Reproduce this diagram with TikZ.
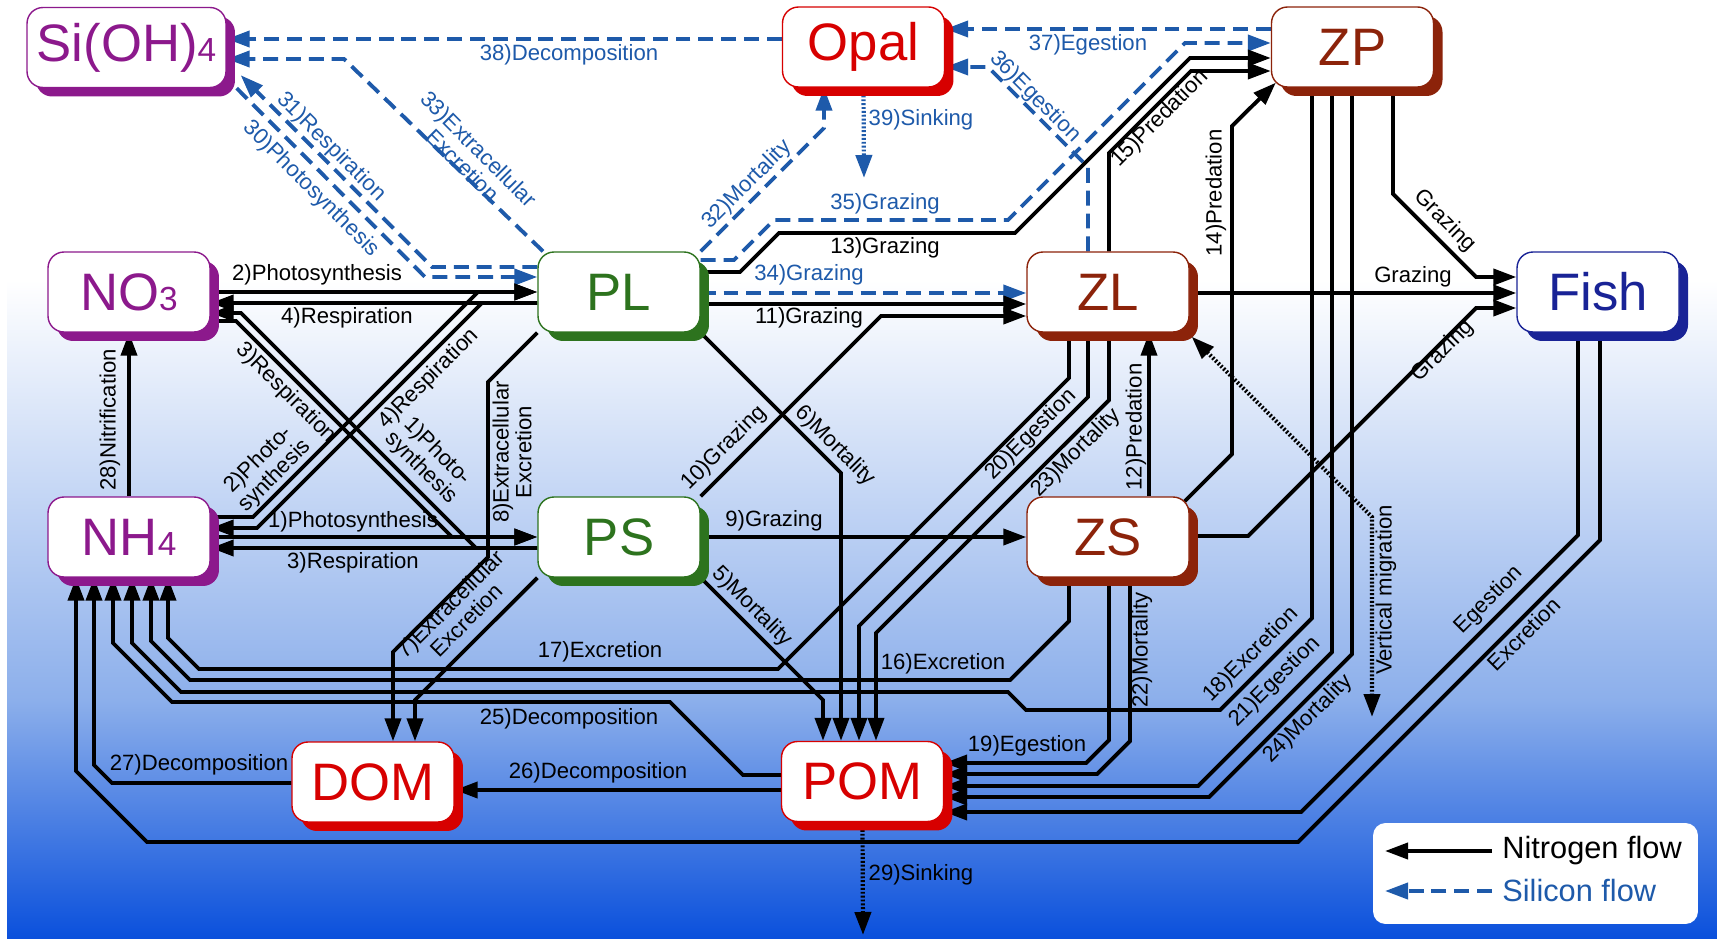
\documentclass[tikz,border=0pt]{standalone}
\usepackage{fontspec}
\setmainfont{Liberation Sans}
\usetikzlibrary{arrows.meta,shadows}

\pgfdeclarelayer{back}
\pgfdeclarelayer{flows}
\pgfsetlayers{back,flows,main}

\definecolor{purp}{RGB}{140,25,140}
\definecolor{leaf}{RGB}{45,115,30}
\definecolor{rust}{RGB}{140,35,10}
\definecolor{crim}{RGB}{215,0,0}
\definecolor{fishblue}{RGB}{25,35,150}
\definecolor{siblue}{RGB}{30,90,170}
\definecolor{seatop}{RGB}{140,175,235}
\definecolor{seadeep}{RGB}{10,80,220}

\newcommand{\lowidx}[1]{{\fontsize{19}{19}\selectfont #1}}

\tikzset{
  pool/.style={draw=#1, text=#1, fill=white, line width=0.8pt,
    rounded corners=0.32cm, minimum width=3.24cm, minimum height=1.6cm,
    inner sep=0pt, font=\fontsize{30}{30}\selectfont,
    drop shadow={shadow xshift=0.18cm, shadow yshift=-0.18cm, fill=#1, opacity=1}},
  nflow/.style={line width=2.2pt, ->},
  sflow/.style={siblue, line width=2.2pt, dash pattern=on 8.5pt off 4.5pt, ->},
  dflow/.style={line width=2.4pt, dash pattern=on 1.1pt off 1.1pt},
  lbl/.style={font=\fontsize{12.6}{13}\selectfont, inner sep=0pt, align=center},
  slbl/.style={lbl, text=siblue},
  keytxt/.style={anchor=west, inner sep=0pt, font=\fontsize{17.5}{18}\selectfont},
}

\begin{document}
\begin{tikzpicture}[x=0.02cm, y=-0.02cm, >={Triangle[length=0.46cm,width=0.32cm]}]
    \useasboundingbox (0,0) rectangle (1717,939);

    % Sea background
    \begin{pgfonlayer}{back}
        \fill[white] (0,0) rectangle (1717,939);
        \shade[top color=white, bottom color=seatop] (7,280) rectangle (1717,700);
        \shade[top color=seatop, bottom color=seadeep] (7,700) rectangle (1717,939);
    \end{pgfonlayer}

    % Pools
    \node[pool=purp, minimum width=3.98cm] (si) at (126.5,47.5) {Si(OH)\lowidx{4}};
    \node[pool=purp] (no3) at (129,292) {NO\lowidx{3}};
    \node[pool=purp] (nh4) at (129,537) {NH\lowidx{4}};
    \node[pool=leaf] (pl) at (619,292) {PL};
    \node[pool=leaf] (ps) at (619,537) {PS};
    \node[pool=crim] (opal) at (863.5,47) {Opal};
    \node[pool=rust] (zl) at (1108,292) {ZL};
    \node[pool=rust] (zs) at (1108,537) {ZS};
    \node[pool=rust] (zp) at (1352.5,47) {ZP};
    \node[pool=fishblue] (fish) at (1598,292) {Fish};
    \node[pool=crim] (dom) at (373,782) {DOM};
    \node[pool=crim] (pom) at (862.5,781.5) {POM};

    % Free ends
    \coordinate (opalsink) at (864,178);
    \coordinate (pomsink) at (863,935);
    \coordinate (migr) at (1372,717);

    \begin{pgfonlayer}{flows}
    % Silicon flows
    \draw[sflow] (opal.west |- 0,39) -- (si.east |- 0,39);
    \draw[sflow] (543,0 |- pl.north) -- (344,59) -- (si.east |- 0,59);
    \draw[sflow] (pl.west |- 0,267) -- (432,267) -- ([shift={(14,-13)}]si.south east);
    \draw[sflow] ([shift={(10,0)}]si.south east) -- (425,277) -- (pl.west |- 0,277);
    \draw[sflow] (pl.north east) -- (824,128) -- (824,0 |- opal.south);
    \draw[sflow] (pl.east |- 0,260) -- (734,260) -- (774,220) -- (1008,220) -- (1185,43) -- (zp.west |- 0,43);
    \draw[sflow] (1088,0 |- zl.north) -- (1088,167) -- (988,67) -- (opal.east |- 0,67);
    \draw[sflow] (zp.west |- 0,29) -- (opal.east |- 0,29);
    \draw[sflow] (pl.east |- 0,293) -- (zl.west |- 0,293);
    \draw[dflow, siblue, ->] (opal.south) -- (opalsink);

    % Nutrients and phytoplankton
    \draw[nflow] (no3.east |- 0,292) -- (pl.west |- 0,292);
    \draw[nflow] (pl.west |- 0,303) -- (no3.east |- 0,303);
    \draw[nflow] (nh4.east |- 0,517) -- (253,517) -- (478,292) -- (pl.west |- 0,292);
    \draw[nflow] (pl.west |- 0,303) -- (482,303) -- (257,528) -- (nh4.east |- 0,528);
    \draw[nflow] (nh4.east |- 0,537) -- (ps.west |- 0,537);
    \draw[nflow] (ps.west |- 0,548) -- (nh4.east |- 0,548);
    \draw[nflow] (no3.east |- 0,321) -- (236,321) -- (452,537) -- (ps.west |- 0,537);
    \draw[nflow] (ps.west |- 0,548) -- (476,548) -- (241,313) -- (no3.east |- 0,313);
    \draw[nflow] (nh4.north) -- (no3.south);

    % Phytoplankton to DOM and POM
    \draw[nflow] (pl.south west) -- (488,382) -- (488,557) -- (393,652) -- (393,0 |- dom.north);
    \draw[nflow] (ps.south west) -- (415,700) -- (415,0 |- dom.north);
    \draw[nflow] (pl.south east) -- (841,473) -- (841,0 |- pom.north);
    \draw[nflow] (ps.south east) -- (823,700) -- (823,0 |- pom.north);

    % Grazing and predation
    \draw[nflow] (ps.east |- 0,537) -- (zs.west |- 0,537);
    \draw[nflow] (ps.north east) -- (881,316) -- (zl.west |- 0,316);
    \draw[nflow] (pl.east |- 0,304) -- (zl.west |- 0,304);
    \draw[nflow] (pl.east |- 0,272) -- (740,272) -- (779,233) -- (1015,233) -- (1190,58) -- (zp.west |- 0,58);
    \draw[nflow] (1109,0 |- zl.north) -- (1109,153) -- (1191,71) -- (zp.west |- 0,71);
    \draw[nflow] ([shift={(-5,5)}]zs.north east) -- (1232,454) -- (1232,126) -- ([shift={(5,-5)}]zp.south west);
    \draw[nflow] (1149,0 |- zs.north) -- (1149,0 |- zl.south);
    \draw[nflow] (zl.east |- 0,293) -- (fish.west |- 0,293);
    \draw[nflow] (1393,0 |- zp.south) -- (1393,194) -- (1476,277) -- (fish.west |- 0,277);
    \draw[nflow] (zs.east |- 0,536) -- (1248,536) -- (1476,308) -- (fish.west |- 0,308);

    % Egestion and mortality to POM
    \draw[nflow] (1088,0 |- zl.south) -- (1088,397) -- (859,626) -- (859,0 |- pom.north);
    \draw[nflow] (1109,0 |- zl.south) -- (1109,400) -- (876,633) -- (876,0 |- pom.north);
    \draw[nflow] (1109,0 |- zs.south) -- (1109,740) -- (1086,763) -- (pom.east |- 0,763);
    \draw[nflow] (1130,0 |- zs.south) -- (1130,741) -- (1097,774) -- (pom.east |- 0,774);
    \draw[nflow] (1332,0 |- zp.south) -- (1332,652) -- (1198,786) -- (pom.east |- 0,786);
    \draw[nflow] (1352,0 |- zp.south) -- (1352,654) -- (1209,797) -- (pom.east |- 0,797);
    \draw[nflow] (1578,0 |- fish.south) -- (1578,535) -- (1301,812) -- (pom.east |- 0,812);

    % Excretion and decomposition to NH4
    \draw[nflow] (1069,0 |- zl.south) -- (1069,378) -- (778,669) -- (199,669) -- (168,638) -- (168,0 |- nh4.south);
    \draw[nflow] (1069,0 |- zs.south) -- (1069,621) -- (1010,680) -- (190,680) -- (151,641) -- (151,0 |- nh4.south);
    \draw[nflow] (1312,0 |- zp.south) -- (1312,618) -- (1220,710) -- (1026,710) -- (1008,692) -- (181,692) -- (132,643) -- (132,0 |- nh4.south);
    \draw[nflow] (pom.west |- 0,775) -- (743,775) -- (670,702) -- (172,702) -- (113,643) -- (113,0 |- nh4.south);
    \draw[nflow] (pom.west |- 0,790) -- (dom.east |- 0,790);
    \draw[nflow] (dom.west |- 0,783) -- (112,783) -- (94,765) -- (94,0 |- nh4.south);
    \draw[nflow] (1600,0 |- fish.south) -- (1600,540) -- (1298,842) -- (147,842) -- (76,771) -- (76,0 |- nh4.south);

    % Migration and sinking
    \draw[dflow, <->] ([shift={(2,4)}]zl.south east) -- (1372,517) -- (migr);
    \draw[dflow, ->] (pom.south) -- (pomsink);
    \end{pgfonlayer}

    % Silicon labels
    \node[slbl] (t38) at (569,55) {38)Decomposition};
    \node[slbl, rotate=-45] (t33) at (471,157) {33)Extracellular\\Excretion};
    \node[slbl, rotate=-45] (t31) at (331,147) {31)Respiration};
    \node[slbl, rotate=-45] (t30) at (311,189) {30)Photosynthesis};
    \node[slbl, rotate=45] (t32) at (747,185) {32)Mortality};
    \node[slbl] (t39) at (921,120) {39)Sinking};
    \node[slbl] (t35) at (885,204) {35)Grazing};
    \node[slbl, rotate=-45] (t36) at (1035,97) {36)Egestion};
    \node[slbl] (t37) at (1088,45) {37)Egestion};
    \node[slbl] (t34) at (809,275) {34)Grazing};

    % Nitrogen labels
    \node[lbl] (t2h) at (317,275) {2)Photosynthesis};
    \node[lbl] (t4h) at (347,318) {4)Respiration};
    \node[lbl, rotate=-45] (t3d) at (286,393) {3)Respiration};
    \node[lbl, rotate=-45] (t1d) at (429,460) {1)Photo-\\synthesis};
    \node[lbl, rotate=45] (t2d) at (267,468) {2)Photo-\\synthesis};
    \node[lbl, rotate=45] (t4d) at (429,379) {4)Respiration};
    \node[lbl, rotate=90] (t28) at (110,420) {28)Nitrification};
    \node[lbl] (t1h) at (353,522) {1)Photosynthesis};
    \node[lbl] (t3h) at (353,563) {3)Respiration};
    \node[lbl, rotate=90] (t8) at (512,452) {8)Extracellular\\Excretion};
    \node[lbl, rotate=45] (t7) at (458,612) {7)Extracellular\\Excretion};
    \node[lbl, rotate=45] (t10) at (724,448) {10)Grazing};
    \node[lbl, rotate=-45] (t6) at (835,446) {6)Mortality};
    \node[lbl, rotate=-45] (t5) at (752,607) {5)Mortality};
    \node[lbl] (t9) at (774,521) {9)Grazing};
    \node[lbl] (t11) at (809,318) {11)Grazing};
    \node[lbl] (t13) at (885,248) {13)Grazing};
    \node[lbl, rotate=45] (t15) at (1160,119) {15)Predation};
    \node[lbl, rotate=90] (t14) at (1216,193) {14)Predation};
    \node[lbl, rotate=90] (t12) at (1136,427) {12)Predation};
    \node[lbl, rotate=-45] (tgzp) at (1445,221) {Grazing};
    \node[lbl] (tgzl) at (1413,277) {Grazing};
    \node[lbl, rotate=45] (tgzs) at (1443,351) {Grazing};
    \node[lbl, rotate=45] (t20) at (1031,435) {20)Egestion};
    \node[lbl, rotate=45] (t23) at (1076,453) {23)Mortality};
    \node[lbl] (t17) at (600,652) {17)Excretion};
    \node[lbl] (t16) at (943,664) {16)Excretion};
    \node[lbl] (t25) at (569,719) {25)Decomposition};
    \node[lbl] (t26) at (598,773) {26)Decomposition};
    \node[lbl] (t27) at (199,765) {27)Decomposition};
    \node[lbl] (t19) at (1027,746) {19)Egestion};
    \node[lbl, rotate=90] (t22) at (1142,650) {22)Mortality};
    \node[lbl, rotate=45] (t18) at (1251,655) {18)Excretion};
    \node[lbl, rotate=45] (t21) at (1275,682) {21)Egestion};
    \node[lbl, rotate=45] (t24) at (1308,719) {24)Mortality};
    \node[lbl, rotate=45] (tfeg) at (1489,600) {Egestion};
    \node[lbl, rotate=45] (tfex) at (1524,634) {Excretion};
    \node[lbl, rotate=90] (tmig) at (1386,590) {Vertical migration};
    \node[lbl] (t29) at (921,875) {29)Sinking};

    % Legend
    \node[fill=white, rounded corners=0.25cm, minimum width=6.5cm, minimum height=2.02cm, inner sep=0pt] (legend) at (1535.5,873.5) {};
    \node[keytxt] (nkeytxt) at (1502,851) {Nitrogen flow};
    \node[keytxt, text=siblue] (skeytxt) at (1502,891) {Silicon flow};
    \coordinate (nkey) at (1385,851);
    \coordinate (skey) at (1385,891);
    \draw[nflow] ([xshift=-0.2cm]nkeytxt.west) -- (nkey);
    \draw[sflow] ([xshift=-0.2cm]skeytxt.west) -- (skey);
\end{tikzpicture}
\end{document}
